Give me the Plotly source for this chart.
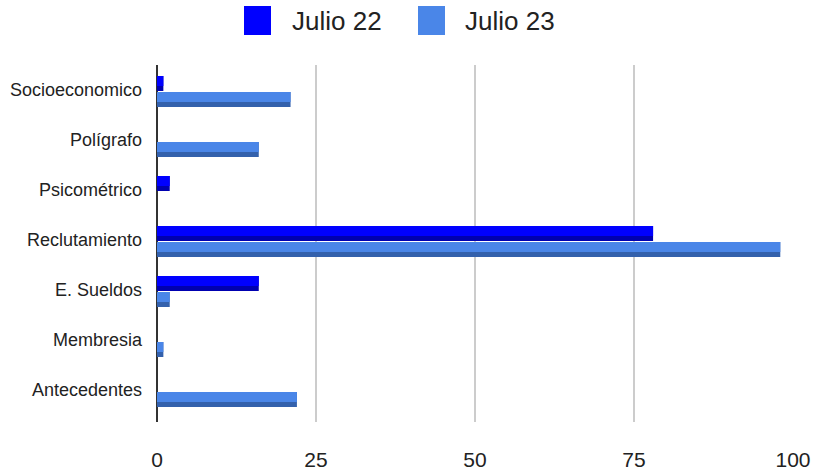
import plotly.graph_objects as go

categories = ["Socioeconomico", "Polígrafo", "Psicométrico", "Reclutamiento",
              "E. Sueldos", "Membresia", "Antecedentes"]
julio22 = [1, 0, 2, 78, 16, 0, 0]
julio23 = [21, 16, 0, 98, 2, 1, 22]
x_ticks = [0, 25, 50, 75, 100]

C22, C22D = "#0000FF", "#0000B0"
C23, C23D = "#4A86E8", "#3461AC"

W, H = 815, 472
ML, MR, MT, MB = 157, 22, 65, 50
PW, PH = W - ML - MR, H - MT - MB


def px(xp):
    return (xp - ML) / PW


def py(yp):
    return (H - MB - yp) / PH


fig = go.Figure()
# 3D-like bars: darker depth below, bright face on top
fig.add_trace(go.Bar(y=categories, x=julio22, orientation="h", marker_color=C22D,
                     marker_line_width=0,
                     offset=-0.02, width=0.30, showlegend=False, hoverinfo="skip"))
fig.add_trace(go.Bar(y=categories, x=julio22, orientation="h", marker_color=C22,
                     marker_line_width=0,
                     offset=0.08, width=0.20, name="Julio 22", showlegend=False))
fig.add_trace(go.Bar(y=categories, x=julio23, orientation="h", marker_color=C23D,
                     marker_line_width=0,
                     offset=-0.34, width=0.30, showlegend=False, hoverinfo="skip"))
fig.add_trace(go.Bar(y=categories, x=julio23, orientation="h", marker_color=C23,
                     marker_line_width=0,
                     offset=-0.24, width=0.20, name="Julio 23", showlegend=False))

font = "Liberation Sans, Arial, sans-serif"

# custom legend
shapes = []
annotations = []
for (x0, x1, tx, label, col) in [(244, 271, 290, "Julio 22", C22),
                                  (418, 445, 463, "Julio 23", C23)]:
    shapes.append(dict(type="rect", xref="paper", yref="paper",
                       x0=px(x0), x1=px(x1), y0=py(35), y1=py(6),
                       fillcolor=col, line=dict(width=0), layer="above"))
    annotations.append(dict(text=label, xref="paper", yref="paper",
                            x=px(tx), y=py(21), xanchor="left", yanchor="middle",
                            showarrow=False, font=dict(size=26, color="#222222", family=font)))

fig.update_layout(
    width=W, height=H,
    margin=dict(l=ML, r=MR, t=MT, b=MB, autoexpand=False),
    barmode="overlay",
    plot_bgcolor="white", paper_bgcolor="white",
    font=dict(family=font, color="#222222"),
    shapes=shapes, annotations=annotations,
    xaxis=dict(range=[0, 100], tickvals=x_ticks, ticktext=[str(v) for v in x_ticks],
               showgrid=True, gridcolor="#CCCCCC", gridwidth=1.5,
               zeroline=True, zerolinecolor="#333333", zerolinewidth=2,
               showline=False, tickfont=dict(size=21, color="#222222"),
               ticklabelstandoff=23, automargin=False),
    yaxis=dict(type="category", categoryorder="array", categoryarray=categories[::-1],
               range=[-0.64, 6.5], showgrid=False, zeroline=False, showline=False,
               tickfont=dict(size=18, color="#222222"), ticklabelstandoff=14,
               automargin=False),
)

fig.write_html("out.html", config={"displayModeBar": False},
               post_script="document.body.style.margin='0';document.body.style.overflow='hidden';")
